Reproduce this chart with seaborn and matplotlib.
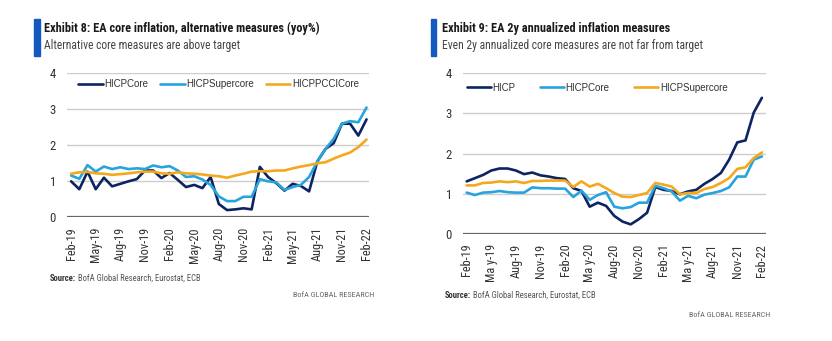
import matplotlib
matplotlib.use("Agg")
import matplotlib.pyplot as plt
from matplotlib import font_manager
import seaborn as sns
import pandas as pd
import numpy as np

# ---------------- data ----------------
tick_labels = ["Feb-19", "May-19", "Aug-19", "Nov-19", "Feb-20", "May-20", "Aug-20",
               "Nov-20", "Feb-21", "May-21", "Aug-21", "Nov-21", "Feb-22"]
tick_labels_right = ["Feb-19", "Ma y-19", "Aug-19", "Nov-19", "Feb-20", "Ma y-20", "Aug-20",
                     "Nov-20", "Feb-21", "Ma y-21", "Aug-21", "Nov-21", "Feb-22"]
months = list(pd.date_range("2019-02-01", "2022-02-01", freq="MS").strftime("%b-%y"))

# Exhibit 8 (yoy %)
ex8_hicp_core = [1.00, 0.78, 1.27, 0.78, 1.10, 0.86, 0.93, 1.00, 1.06, 1.30, 1.30, 1.09,
                 1.23, 1.04, 0.84, 0.90, 0.81, 1.12, 0.37, 0.20, 0.22, 0.25, 0.22, 1.40,
                 1.12, 0.95, 0.74, 0.93, 0.87, 0.72, 1.55, 1.90, 2.06, 2.60, 2.60, 2.27, 2.72]
ex8_supercore = [1.16, 1.07, 1.45, 1.27, 1.41, 1.34, 1.39, 1.34, 1.36, 1.34, 1.44, 1.39,
                 1.42, 1.30, 1.12, 1.14, 1.05, 0.90, 0.58, 0.45, 0.45, 0.57, 0.57, 1.06,
                 1.00, 0.97, 0.76, 0.84, 0.90, 1.12, 1.55, 1.90, 2.18, 2.60, 2.67, 2.64, 3.05]
ex8_pcci_core = [1.21, 1.25, 1.26, 1.22, 1.21, 1.18, 1.20, 1.22, 1.25, 1.27, 1.27, 1.22,
                 1.21, 1.25, 1.22, 1.21, 1.19, 1.16, 1.14, 1.10, 1.16, 1.21, 1.27, 1.28,
                 1.28, 1.30, 1.30, 1.36, 1.41, 1.45, 1.50, 1.53, 1.63, 1.72, 1.80, 1.95, 2.16]

# Exhibit 9 (2y annualized)
ex9_hicp = [1.31, 1.39, 1.47, 1.58, 1.63, 1.63, 1.58, 1.49, 1.53, 1.46, 1.43, 1.39,
            1.37, 1.14, 1.07, 0.68, 0.78, 0.70, 0.45, 0.31, 0.24, 0.37, 0.53, 1.17,
            1.10, 1.07, 0.99, 1.06, 1.10, 1.25, 1.37, 1.52, 1.85, 2.28, 2.33, 3.02, 3.39]
ex9_core = [1.03, 0.97, 1.03, 1.04, 1.07, 1.04, 1.03, 1.03, 1.16, 1.14, 1.14, 1.13,
            1.13, 0.92, 1.08, 0.85, 0.97, 1.04, 0.68, 0.64, 0.67, 0.78, 0.78, 1.20,
            1.14, 1.06, 0.83, 0.95, 0.89, 0.98, 1.02, 1.07, 1.16, 1.43, 1.43, 1.85, 1.93]
ex9_supercore = [1.21, 1.21, 1.27, 1.28, 1.31, 1.29, 1.31, 1.27, 1.32, 1.32, 1.33, 1.33,
                 1.33, 1.17, 1.31, 1.18, 1.25, 1.14, 1.02, 0.93, 0.92, 0.97, 1.02, 1.27,
                 1.23, 1.18, 0.99, 1.02, 1.02, 1.12, 1.17, 1.27, 1.39, 1.62, 1.66, 1.89, 2.03]

# ---------------- style ----------------
NAVY = "#0c2461"
LBLUE = "#27a4dd"
ORANGE = "#f4a81d"
BAR = "#1459c0"
GRID = "#cdcdcd"
TXT = "#333333"

sns.set_theme(style="white")

available = {f.name for f in font_manager.fontManager.ttflist}
narrow_candidates = ["Roboto Condensed", "Liberation Sans Narrow", "Open Sans Condensed",
                     "DejaVu Sans Condensed"]
narrow_found = [f for f in narrow_candidates if f in available]
HAS_NARROW = len(narrow_found) > 0
NARROW = (narrow_found[:1] if HAS_NARROW else []) + ["Liberation Sans", "DejaVu Sans"]
REG = ["Liberation Sans", "DejaVu Sans"]
plt.rcParams["font.family"] = NARROW
# size factor: regular-width fallback needs smaller sizes to fit the same widths
K = 1.0 if HAS_NARROW else 0.84

fig = plt.figure(figsize=(8.32, 3.41), dpi=100)
W, H = 832, 341


def ax_rect(x0, y_top, x1, y_bot):
    return [x0 / W, 1 - y_bot / H, (x1 - x0) / W, (y_bot - y_top) / H]


def make_df(series_dict):
    frames = []
    for name, vals in series_dict.items():
        frames.append(pd.DataFrame({"idx": np.arange(len(vals)), "month": months,
                                    "value": vals, "series": name}))
    return pd.concat(frames, ignore_index=True)


def draw_panel(ax, df, palette, order, xlim, labels, leg_anchor, colspace):
    sns.lineplot(data=df, x="idx", y="value", hue="series", hue_order=order,
                 palette=palette, linewidth=1.9, ax=ax, legend=True)
    ax.set_xlim(*xlim)
    ax.set_ylim(0, 4)
    ax.set_yticks([0, 1, 2, 3, 4])
    ax.set_yticklabels(["0", "1", "2", "3", "4"], fontsize=9.2 * K, color=TXT, family=NARROW)
    ax.set_xticks(np.arange(0, 37, 3))
    ax.set_xticklabels(labels, rotation=90, fontsize=8.8 * K, color=TXT, family=NARROW)
    ax.tick_params(axis="both", length=0)
    ax.tick_params(axis="y", pad=8)
    ax.tick_params(axis="x", pad=7)
    ax.set_xlabel("")
    ax.set_ylabel("")
    for s in ax.spines.values():
        s.set_visible(False)
    for yv in [1, 2, 3, 4]:
        ax.axhline(yv, color=GRID, lw=1.0, zorder=0)
    ax.axhline(0, color="#666666", lw=1.6, zorder=0)
    ax.grid(False)
    handles, lbls = ax.get_legend_handles_labels()
    ax.legend(handles, lbls, loc="upper left", bbox_to_anchor=leg_anchor, ncol=3,
              frameon=False, prop={"family": REG, "size": 7.0}, handlelength=2.5,
              handletextpad=0.15, columnspacing=colspace, borderaxespad=0,
              labelcolor=TXT)


# ---- left panel ----
ax1 = fig.add_axes(ax_rect(67, 73.3, 369, 217.3))
df8 = make_df({"HICPCore": ex8_hicp_core, "HICPSupercore": ex8_supercore,
               "HICPPCCICore": ex8_pcci_core})
draw_panel(ax1, df8, {"HICPCore": NAVY, "HICPSupercore": LBLUE, "HICPPCCICore": ORANGE},
           ["HICPCore", "HICPSupercore", "HICPPCCICore"], (-0.5, 36.3), tick_labels,
           (0.025, 0.985), 1.25)

# ---- right panel ----
ax2 = fig.add_axes(ax_rect(463, 73.3, 766, 234))
df9 = make_df({"HICP": ex9_hicp, "HICPCore": ex9_core, "HICPSupercore": ex9_supercore})
draw_panel(ax2, df9, {"HICP": NAVY, "HICPCore": LBLUE, "HICPSupercore": ORANGE},
           ["HICP", "HICPCore", "HICPSupercore"], (-0.45, 36.5), tick_labels_right,
           (0.0, 0.965), 2.5)

# ---- headers ----
def header(xbar, xtext, title, subtitle):
    fig.patches.append(plt.Rectangle((xbar / W, 1 - 56 / H), 5.5 / W, 37 / H,
                                     transform=fig.transFigure, color=BAR, zorder=5))
    fig.text(xtext / W, 1 - 28.5 / H, title, fontsize=8.8 * K, fontweight="bold",
             color="#1a1a1a", va="center", ha="left", family=NARROW)
    fig.text(xtext / W, 1 - 46 / H, subtitle, fontsize=8.4 * K, color="#444444",
             va="center", ha="left", family=NARROW)


header(34, 44.5, "Exhibit 8: EA core inflation, alternative measures (yoy%)",
       "Alternative core measures are above target")
header(430.5, 441.5, "Exhibit 9: EA 2y annualized inflation measures",
       "Even 2y annualized core measures are not far from target")


def source(x, y):
    t = fig.text(x / W, 1 - y / H, "Source:", fontsize=6.2 * K, fontweight="bold",
                 color="#333333", va="center", ha="left", family=NARROW)
    fig.canvas.draw()
    bb = t.get_window_extent()
    fig.text((bb.x1 + 2) / W, 1 - y / H, "BofA Global Research, Eurostat, ECB",
             fontsize=6.2 * K, color="#555555", va="center", ha="left", family=NARROW)


source(49.5, 278.5)
source(445, 295)
fig.text(374 / W, 1 - 295 / H, "BofA GLOBAL RESEARCH", fontsize=6.0 * K * 0.97,
         color="#666666", va="center", ha="right", family=NARROW)
fig.text(770 / W, 1 - 315 / H, "BofA GLOBAL RESEARCH", fontsize=6.0 * K * 0.97,
         color="#666666", va="center", ha="right", family=NARROW)

fig.savefig("out.png", dpi=100, facecolor="white")
